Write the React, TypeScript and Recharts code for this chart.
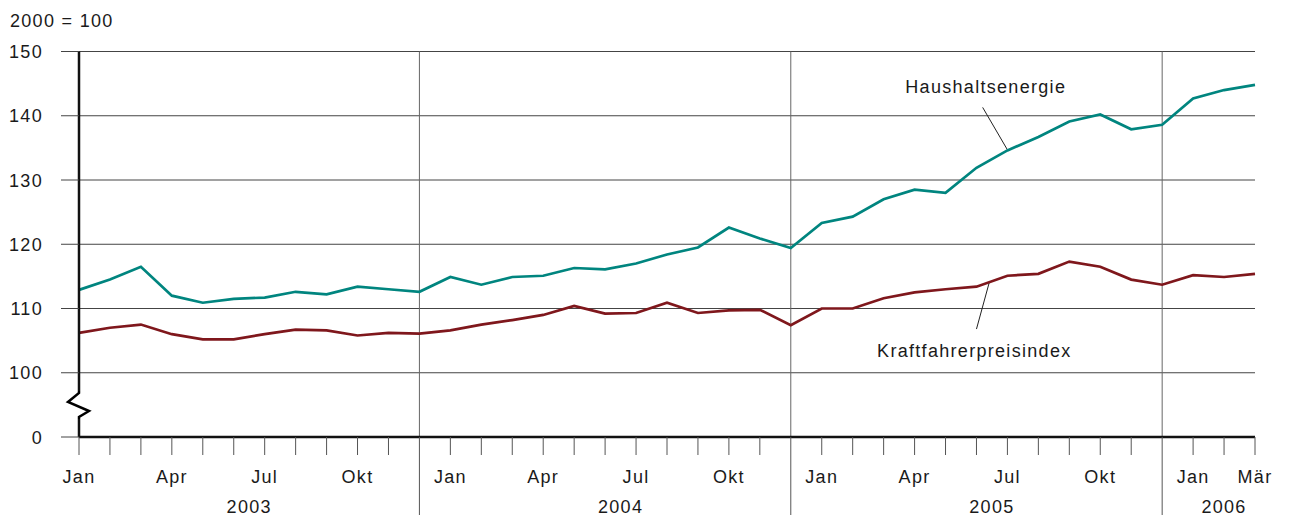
import React from 'react';
import { LineChart, Line, XAxis, YAxis, CartesianGrid, ReferenceLine, ReferenceDot } from 'recharts';

const months = ['Jan','Feb','Mär','Apr','Mai','Jun','Jul','Aug','Sep','Okt','Nov','Dez'];
const years = ['2003','2004','2005','2006'];
const haushaltsenergie = [
  112.9, 114.5, 116.5, 112.0, 110.9, 111.5, 111.7, 112.6, 112.2, 113.4, 113.0, 112.6,
  114.9, 113.7, 114.9, 115.1, 116.3, 116.1, 117.0, 118.4, 119.5, 122.6, 120.9, 119.4,
  123.3, 124.3, 127.0, 128.5, 128.0, 131.9, 134.6, 136.7, 139.1, 140.2, 137.9, 138.6,
  142.7, 144.0, 144.8,
];
const kraftfahrer = [
  106.2, 107.0, 107.5, 106.0, 105.2, 105.2, 106.0, 106.7, 106.6, 105.8, 106.2, 106.1,
  106.6, 107.5, 108.2, 109.0, 110.4, 109.2, 109.3, 110.9, 109.3, 109.7, 109.8, 107.4,
  110.0, 110.0, 111.6, 112.5, 113.0, 113.4, 115.1, 115.4, 117.3, 116.5, 114.5, 113.7,
  115.2, 114.9, 115.4,
];
const yTicks = [90, 100, 110, 120, 130, 140, 150];
const labeledMonths = ['Jan', 'Apr', 'Jul', 'Okt', 'Mär'];
const separatorIdx = [11, 23, 35];
const yearCenters = [5.5, 17.5, 29.5, 37];

const data = haushaltsenergie.map((h, i) => ({
  idx: i,
  month: months[i % 12],
  haushalt: h,
  kraft: kraftfahrer[i],
}));
const monthTicks = data.map((d) => d.idx);

const FONT = 'Liberation Sans, Arial, sans-serif';
const TEAL = '#00857f';
const RED = '#7f171c';
const LS = 1.3;

const MonthTick = (props: any) => {
  const { x, y, payload } = props;
  const i = payload.value as number;
  const m = months[i % 12];
  const isLast = i === data.length - 1;
  const showLabel = m === 'Jan' || m === 'Apr' || m === 'Jul' || m === 'Okt' || (isLast && labeledMonths.includes(m));
  const sep = separatorIdx.includes(i);
  return (
    <g>
      <line x1={x} x2={x} y1={y} y2={y + (sep ? 78 : 18)} stroke="#555" strokeWidth={1} />
      {showLabel && (
        <text x={x} y={y + 46} textAnchor="middle" fontFamily={FONT} fontSize={18} letterSpacing={LS} fill="#1a1a1a">
          {m}
        </text>
      )}
    </g>
  );
};

const YearTick = (props: any) => {
  const { x, y, payload } = props;
  const k = yearCenters.indexOf(payload.value);
  return (
    <text x={x} y={y + 26} textAnchor="middle" fontFamily={FONT} fontSize={18} letterSpacing={LS} fill="#1a1a1a">
      {years[k]}
    </text>
  );
};

const YTick = (props: any) => {
  const { x, y, payload } = props;
  const v = payload.value as number;
  const ax = x + 36;
  return (
    <g>
      {v === 90 && (
        <g>
          <rect x={ax - 12} y={y - 46} width={24} height={28} fill="#fff" />
          <polyline
            points={`${ax},${y - 46} ${ax},${y - 44} ${ax - 11},${y - 35} ${ax + 10},${y - 26} ${ax},${y - 20} ${ax},${y - 18}`}
            fill="none"
            stroke="#000"
            strokeWidth={2.5}
            strokeLinejoin="miter"
          />
        </g>
      )}
      <text x={x} y={y + 6.5} textAnchor="end" fontFamily={FONT} fontSize={18} letterSpacing={LS} fill="#1a1a1a">
        {v === 90 ? '0' : String(v)}
      </text>
    </g>
  );
};

export default function App() {
  return (
    <div style={{ position: 'absolute', left: 0, top: 0, width: 1289, height: 518, background: '#fff' }}>
      <div style={{ position: 'absolute', left: 10, top: 10, fontFamily: FONT, fontSize: 18, letterSpacing: LS, color: '#1a1a1a', lineHeight: '22px' }}>
        2000 = 100
      </div>
      <LineChart width={1289} height={518} data={data} margin={{ top: 51.5, right: 34, bottom: 0, left: 0 }}>
        <CartesianGrid horizontal vertical={false} stroke="#444" strokeWidth={1} />
        <XAxis
          dataKey="idx"
          type="number"
          domain={[0, data.length - 1]}
          ticks={monthTicks}
          interval={0}
          height={50}
          tickSize={0}
          tickMargin={0}
          tickLine={false}
          axisLine={{ stroke: '#111', strokeWidth: 2.5 }}
          tick={<MonthTick />}
        />
        <XAxis
          xAxisId="years"
          dataKey="idx"
          type="number"
          domain={[0, data.length - 1]}
          ticks={yearCenters}
          interval={0}
          height={31}
          tickSize={0}
          tickMargin={0}
          tickLine={false}
          axisLine={false}
          tick={<YearTick />}
        />
        <YAxis
          type="number"
          domain={[90, 150]}
          ticks={yTicks}
          interval={0}
          width={79}
          tickSize={18}
          tickMargin={18}
          tickLine={{ stroke: '#444', strokeWidth: 1 }}
          axisLine={{ stroke: '#111', strokeWidth: 2.5 }}
          tick={<YTick />}
        />
        {separatorIdx.map((s) => (
          <ReferenceLine key={s} x={s} stroke="#666" strokeWidth={1} />
        ))}
        <ReferenceLine
          segment={[{ x: 29.2, y: 141.3 }, { x: 30.0, y: 134.7 }]}
          stroke="#222"
          strokeWidth={1}
        />
        <ReferenceLine
          segment={[{ x: 29.41, y: 114.0 }, { x: 29.0, y: 106.8 }]}
          stroke="#222"
          strokeWidth={1}
        />
        <ReferenceDot
          x={29.3}
          y={144.6}
          r={0}
          fill="none"
          stroke="none"
          label={{ value: 'Haushaltsenergie', position: 'center', fontFamily: FONT, fontSize: 18, letterSpacing: LS, fill: '#1a1a1a' }}
        />
        <ReferenceDot
          x={28.93}
          y={103.4}
          r={0}
          fill="none"
          stroke="none"
          label={{ value: 'Kraftfahrerpreisindex', position: 'center', fontFamily: FONT, fontSize: 18, letterSpacing: LS, fill: '#1a1a1a' }}
        />
        <Line type="linear" dataKey="haushalt" stroke={TEAL} strokeWidth={2.7} dot={false} isAnimationActive={false} />
        <Line type="linear" dataKey="kraft" stroke={RED} strokeWidth={2.7} dot={false} isAnimationActive={false} />
      </LineChart>
    </div>
  );
}
